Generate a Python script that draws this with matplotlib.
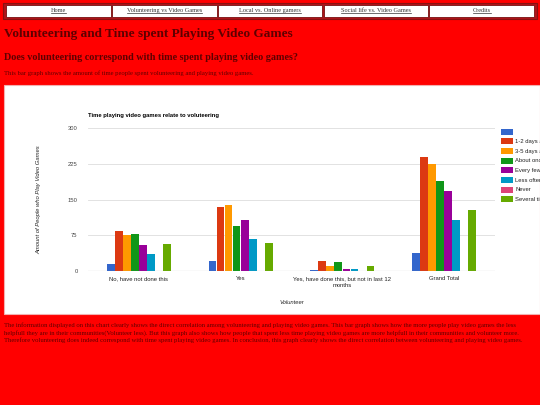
import matplotlib
matplotlib.use("Agg")
import matplotlib.pyplot as plt
import numpy as np
from matplotlib.patches import Rectangle
from matplotlib.lines import Line2D

W, H = 540, 405

nav_items = ["Home", "Volunteering vs Video Games", "Local vs. Online gamers",
             "Social life vs. Video Games", "Credits"]
page_title = "Volunteering and Time spent Playing Video Games"
page_sub = "Does volunteering correspond with time spent playing video games?"
intro = "This bar graph shows the amount of time people spent volunteering and playing video games."
outro = ("The information displayed on this chart clearly shows the direct correlation among volunteering and playing video games. This bar graph shows how the more people play video games the less\n"
         "helpfull they are in their communities(Volunteer less). But this graph also shows how people that spent less time playing video games are more helpfull in their communities and volunteer more.\n"
         "Therefore volunteering does indeed correspond with time spent playing video games. In conclusion, this graph clearly shows the direct correlation between volunteering and playing video games.")

chart_title = "Time playing video games relate to voluteering"
categories = ["No, have not done this", "Yes",
              "Yes, have done this, but not in last 12\nmonths", "Grand Total"]
series_names = ["", "1-2 days a week", "3-5 days a week", "About once a week",
                "Every few weeks", "Less often", "Never", "Several times a day"]
s_blank = [14, 21, 2, 37]
s_12days = [84, 135, 21, 240]
s_35days = [75, 138, 11, 224]
s_once = [77, 94, 18, 189]
s_fewweeks = [55, 107, 5, 167]
s_less = [36, 67, 4, 107]
s_never = [0, 0, 1, 1]
s_several = [57, 59, 11, 127]
series_values = [s_blank, s_12days, s_35days, s_once, s_fewweeks, s_less, s_never, s_several]
colors = ["#3366CC", "#DC3912", "#FF9900", "#109618", "#990099", "#0099C6", "#DD4477", "#66AA00"]
yticks = [0, 75, 150, 225, 300]

def fx(x):
    return x / W

def fy(y):
    return 1 - y / H

fig = plt.figure(figsize=(5.4, 4.05), dpi=100)
fig.patch.set_facecolor("#FF0000")

serif = ["Liberation Serif", "DejaVu Serif"]
sans = ["Liberation Sans", "DejaVu Sans"]
maroon = "#5e0000"
cfs = 4.25

# nav bar
fig.patches.append(Rectangle((fx(3), fy(19)), fx(534), 16 / H, transform=fig.transFigure,
                             facecolor="#b0141a", edgecolor="#8a1010", lw=0.8, zorder=1))
n = len(nav_items)
bx0, bx1 = 5.5, 534.5
bw = (bx1 - bx0) / n
nav_texts = []
for i, item in enumerate(nav_items):
    x0 = bx0 + i * bw
    fig.patches.append(Rectangle((fx(x0 + 0.6), fy(16.5)), (bw - 1.2) / W, 11.5 / H,
                                 transform=fig.transFigure, facecolor="white",
                                 edgecolor="#7a1010", lw=0.6, zorder=2))
    t = fig.text(fx(x0 + bw / 2), fy(10.5), item, ha="center", va="center",
                 fontsize=4.5, family=serif, color="#333333", zorder=3)
    nav_texts.append(t)

# headings
fig.text(fx(4), fy(33.5), page_title, ha="left", va="center", fontsize=9.5,
         family=serif, weight="bold", color=maroon)
fig.text(fx(4), fy(57), page_sub, ha="left", va="center", fontsize=7.3,
         family=serif, weight="bold", color=maroon)
fig.text(fx(4), fy(73.5), intro, ha="left", va="center", fontsize=4.8,
         family=serif, color=maroon)
fig.text(fx(4), fy(322.5), outro, ha="left", va="top", fontsize=4.75,
         family=serif, color=maroon, linespacing=1.38)

# chart white panel
fig.patches.append(Rectangle((fx(4), fy(314)), (W - 4) / W, (314 - 84.5) / H,
                             transform=fig.transFigure, facecolor="white",
                             edgecolor="#f3b0b0", lw=0.8, zorder=1))

ax = fig.add_axes([fx(88), fy(271), (495 - 88) / W, (271 - 128) / H])
ax.set_zorder(5)
ax.patch.set_visible(False)
x = np.arange(len(categories))
bw_bar = 0.079
nser = len(series_values)
for j, (vals, c) in enumerate(zip(series_values, colors)):
    off = (j - (nser - 1) / 2) * bw_bar
    ax.bar(x + off, vals, width=bw_bar * 0.96, color=c, zorder=3, linewidth=0)
ax.set_xlim(-0.5, len(categories) - 0.5)
ax.set_ylim(0, 300)
ax.set_yticks(yticks)
ax.set_yticklabels([str(v) for v in yticks], fontsize=cfs, color="#444444", family=sans)
ax.set_xticks(x)
ax.set_xticklabels(categories, fontsize=cfs, color="#222222", family=sans, linespacing=1.55)
ax.tick_params(length=0)
ax.tick_params(axis="x", pad=3.5)
ax.tick_params(axis="y", pad=7.5)
for s in ax.spines.values():
    s.set_visible(False)
ax.grid(axis="y", color="#dddddd", lw=0.6, zorder=0)
ax.axhline(0, color="#999999", lw=0.8, zorder=4)

fig.text(fx(88), fy(116), chart_title, ha="left", va="center", fontsize=cfs,
         family=sans, weight="bold", color="#000000", zorder=6)
fig.text(fx(38.5), fy(200), "Amount of People who Play Video Games", ha="center", va="center",
         rotation=90, fontsize=cfs, family=sans, style="italic", color="#222222", zorder=6)
fig.text(fx(292), fy(302), "Volunteer", ha="center", va="center", fontsize=cfs,
         family=sans, style="italic", color="#222222", zorder=6)

# legend
for j, (name, c) in enumerate(zip(series_names, colors)):
    yc = 131.7 + j * 9.66
    fig.patches.append(Rectangle((fx(501), fy(yc + 3)), 12 / W, 6 / H, transform=fig.transFigure,
                                 facecolor=c, edgecolor="none", zorder=6))
    fig.text(fx(515), fy(yc), name, ha="left", va="center", fontsize=cfs, family=sans,
             color="#222222", zorder=6)

# underline nav links
fig.canvas.draw()
r = fig.canvas.get_renderer()
for t in nav_texts:
    bb = t.get_window_extent(r)
    yl = bb.y0 + 0.3
    fig.add_artist(Line2D([bb.x0 / W, bb.x1 / W], [yl / H, yl / H], transform=fig.transFigure,
                          color="#333333", lw=0.5, zorder=4))

fig.savefig("out.png", dpi=100, facecolor=fig.get_facecolor())
